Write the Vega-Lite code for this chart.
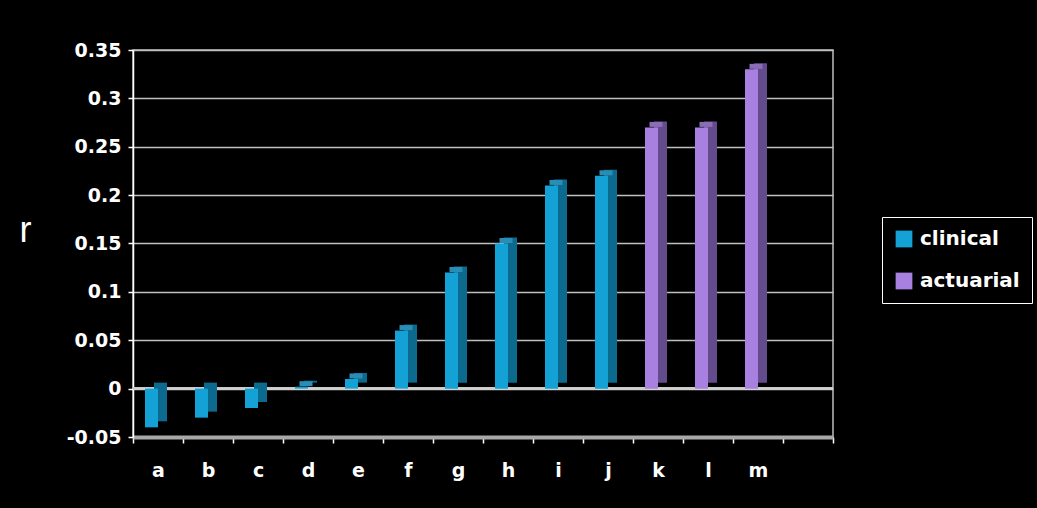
{
  "$schema": "https://vega.github.io/schema/vega-lite/v6.json",
  "autosize": {"type": "none"},
  "padding": {"left": 133, "top": 50, "right": 204, "bottom": 71},
  "width": 700,
  "height": 387,
  "background": "black",
  "config": {
    "view": {"stroke": "#bfbfbf", "strokeWidth": 1.5},
    "font": "DejaVu Sans"
  },
  "data": {
    "values": [
      {"item": "a", "r": -0.04, "type": "clinical"},
      {"item": "b", "r": -0.03, "type": "clinical"},
      {"item": "c", "r": -0.02, "type": "clinical"},
      {"item": "d", "r": 0.002, "type": "clinical"},
      {"item": "e", "r": 0.01, "type": "clinical"},
      {"item": "f", "r": 0.06, "type": "clinical"},
      {"item": "g", "r": 0.12, "type": "clinical"},
      {"item": "h", "r": 0.15, "type": "clinical"},
      {"item": "i", "r": 0.21, "type": "clinical"},
      {"item": "j", "r": 0.22, "type": "clinical"},
      {"item": "k", "r": 0.27, "type": "actuarial"},
      {"item": "l", "r": 0.27, "type": "actuarial"},
      {"item": "m", "r": 0.33, "type": "actuarial"}
    ]
  },
  "encoding": {
    "x": {
      "field": "item",
      "type": "nominal",
      "scale": {"domain": ["a","b","c","d","e","f","g","h","i","j","k","l","m"," "], "paddingInner": 0, "paddingOuter": 0},
      "axis": {
        "title": null,
        "labelAngle": 0,
        "labelColor": "white",
        "labelFont": "DejaVu Sans",
        "labelFontWeight": "bold",
        "labelFontSize": 19,
        "labelPadding": 18,
        "tickBand": "extent",
        "tickColor": "white",
        "tickSize": 6,
        "tickWidth": 1.5,
        "domainColor": "#a8a8a8",
        "domainWidth": 4,
        "grid": false
      }
    },
    "y": {
      "field": "r",
      "type": "quantitative",
      "scale": {"domain": [-0.05, 0.35], "nice": false, "zero": false},
      "axis": {
        "title": "r",
        "titleAngle": 0,
        "titleX": -108,
        "titleY": 180,
        "titleAlign": "center",
        "titleBaseline": "middle",
        "titleColor": "white",
        "titleFont": "Liberation Sans",
        "titleFontWeight": "normal",
        "titleFontSize": 36,
        "values": [-0.05, 0, 0.05, 0.1, 0.15, 0.2, 0.25, 0.3, 0.35],
        "labelExpr": "datum.value < 0 ? '-' + format(-datum.value, '~g') : format(datum.value, '~g')",
        "labelColor": "white",
        "labelFont": "DejaVu Sans",
        "labelFontWeight": "bold",
        "labelFontSize": 19,
        "labelPadding": 7,
        "tickColor": "white",
        "tickSize": 5,
        "tickWidth": 1.5,
        "domainColor": "white",
        "domainWidth": 1.5,
        "grid": true,
        "gridColor": "#bfbfbf",
        "gridWidth": 1.5
      }
    }
  },
  "layer": [
    {
      "mark": {"type": "rule", "color": "#d0d0d0", "strokeWidth": 2},
      "encoding": {"y": {"datum": 0}, "x": null}
    },
    {
      "mark": {"type": "bar", "width": 13, "xOffset": 2.5, "yOffset": -6},
      "encoding": {
        "color": {
          "condition": {"test": "datum.type === 'clinical'", "value": "#0c6a8e"},
          "value": "#634b8c"
        }
      }
    },
    {
      "transform": [{"filter": "datum.r > 0"}],
      "mark": {"type": "tick", "orient": "horizontal", "size": 13, "thickness": 5, "xOffset": -2, "yOffset": -3, "opacity": 1},
      "encoding": {
        "color": {
          "condition": {"test": "datum.type === 'clinical'", "value": "#2a8db5"},
          "value": "#8a6cb8"
        }
      }
    },
    {
      "mark": {"type": "bar", "width": 13, "xOffset": -6.5},
      "encoding": {
        "color": {
          "field": "type",
          "type": "nominal",
          "scale": {"domain": ["clinical", "actuarial"], "range": ["#14a2d6", "#a881e0"]},
          "legend": {
            "title": null,
            "orient": "none",
            "legendX": 749,
            "legendY": 167,
            "direction": "vertical",
            "symbolType": "square",
            "symbolSize": 280,
            "symbolStrokeWidth": 0,
            "symbolOpacity": 1,
            "labelColor": "white",
            "labelFont": "DejaVu Sans",
            "labelFontWeight": "bold",
            "labelFontSize": 20,
            "labelOffset": 6,
            "rowPadding": 22,
            "padding": 12,
            "strokeColor": "white",
            "fillColor": "black"
          }
        }
      }
    }
  ]
}
